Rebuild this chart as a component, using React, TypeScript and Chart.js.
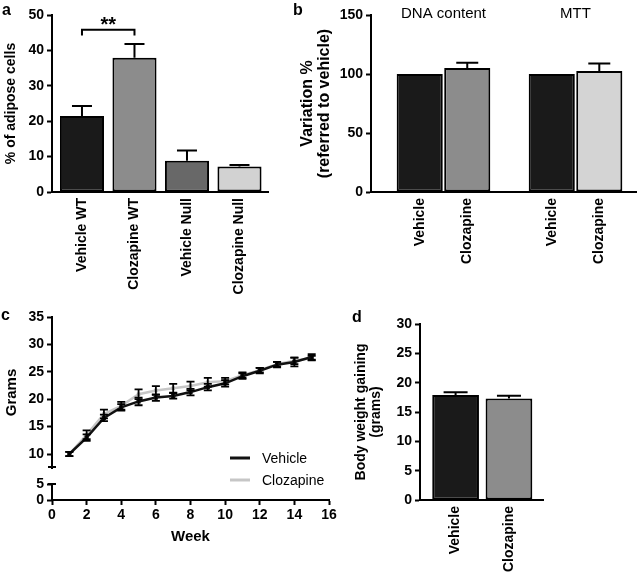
import React, { useEffect, useRef } from 'react';
import { Chart, registerables } from 'chart.js';

Chart.register(...registerables);

const FONT = '"Liberation Sans", Arial, Helvetica, sans-serif';
Chart.defaults.font.family = FONT;
Chart.defaults.color = '#000';

// ---------- Panel a ----------
const adiposeCategories = ['Vehicle WT', 'Clozapine WT', 'Vehicle Null', 'Clozapine Null'];
const adiposeValues = [21.5, 37.9, 8.8, 7.2];
const adiposeErrors = [2.8, 3.9, 2.9, 0.4];
const adiposeColors = ['#1a1a1a', '#8c8c8c', '#686868', '#d2d2d2'];
const adiposeTicks = [0, 10, 20, 30, 40, 50];
const adiposeSignificance = { from: 0, to: 1, value: 45.8, drop: 1.6, label: '**' };

// ---------- Panel b ----------
const variationGroups = ['DNA content', 'MTT'];
const variationVehicle = [100, 100];
const variationVehicleErr = [0, 0];
const variationClozapine = [105, 102.5];
const variationClozapineErr = [4.6, 6.5];
const variationClozapineColors = ['#8c8c8c', '#d4d4d4'];
const variationTicks = [0, 50, 100, 150];

// ---------- Panel c ----------
const weeks = [1, 2, 3, 4, 5, 6, 7, 8, 9, 10, 11, 12, 13, 14, 15];
const weightVehicle = [10.0, 13.0, 16.6, 18.5, 19.6, 20.3, 20.6, 21.3, 22.2, 22.9, 24.2, 25.2, 26.3, 26.8, 27.7];
const weightVehicleErr = [0.4, 0.6, 0.6, 0.6, 0.7, 0.6, 0.5, 0.6, 0.6, 0.6, 0.5, 0.5, 0.5, 0.8, 0.5];
const weightClozapine = [10.0, 13.5, 17.3, 18.8, 20.9, 21.6, 22.0, 22.4, 23.1, 23.3, 24.4, 25.3, 26.4, 27.0, 27.5];
const weightClozapineErr = [0.4, 0.8, 0.8, 0.7, 0.9, 0.8, 0.8, 0.8, 0.8, 0.6, 0.5, 0.4, 0.4, 0.6, 0.4];
const weekTicks = [0, 2, 4, 6, 8, 10, 12, 14, 16];
const gramsUpperTicks = [10, 15, 20, 25, 30, 35];
const gramsLowerTicks = [0, 5];

// ---------- Panel d ----------
const gainCategories = ['Vehicle', 'Clozapine'];
const gainValues = [17.9, 17.3];
const gainErrors = [0.45, 0.45];
const gainColors = ['#1a1a1a', '#8c8c8c'];
const gainTicks = [0, 5, 10, 15, 20, 25, 30];

// ---------- plugins ----------
const errorBarPlugin = {
  id: 'errorBars',
  afterDatasetsDraw(chart: any, _args: any, opts: any) {
    const { ctx } = chart;
    ctx.save();
    ctx.strokeStyle = opts.color || '#000';
    ctx.lineWidth = opts.width || 2;
    chart.data.datasets.forEach((ds: any, di: number) => {
      const errs = ds.errors;
      if (!errs) return;
      const meta = chart.getDatasetMeta(di);
      const yScale = chart.scales[meta.yAxisID];
      meta.data.forEach((el: any, i: number) => {
        const e = errs[i];
        if (!e) return;
        const raw = ds.data[i];
        const v = typeof raw === 'number' ? raw : raw.y;
        const yHi = yScale.getPixelForValue(v + e);
        const yLo = opts.mode === 'both' ? yScale.getPixelForValue(v - e) : yScale.getPixelForValue(v);
        const x = el.x;
        const c = opts.cap || 8;
        ctx.beginPath();
        ctx.moveTo(x, yLo);
        ctx.lineTo(x, yHi);
        ctx.moveTo(x - c, yHi);
        ctx.lineTo(x + c, yHi);
        if (opts.mode === 'both') {
          ctx.moveTo(x - c, yLo);
          ctx.lineTo(x + c, yLo);
        }
        ctx.stroke();
      });
    });
    ctx.restore();
  },
};

const significancePlugin = {
  id: 'significance',
  afterDatasetsDraw(chart: any, _args: any, opts: any) {
    const { ctx } = chart;
    const xs = chart.scales.x;
    const ys = chart.scales.y;
    const x0 = xs.getPixelForValue(opts.from);
    const x1 = xs.getPixelForValue(opts.to);
    const yTop = ys.getPixelForValue(opts.value);
    const yDrop = ys.getPixelForValue(opts.value - opts.drop);
    ctx.save();
    ctx.strokeStyle = '#000';
    ctx.lineWidth = 2;
    ctx.beginPath();
    ctx.moveTo(x0, yDrop);
    ctx.lineTo(x0, yTop);
    ctx.lineTo(x1, yTop);
    ctx.lineTo(x1, yDrop);
    ctx.stroke();
    ctx.fillStyle = '#000';
    ctx.font = `bold 20px ${FONT}`;
    ctx.textAlign = 'center';
    ctx.textBaseline = 'alphabetic';
    ctx.fillText(opts.label, (x0 + x1) / 2, yTop + 1);
    ctx.restore();
  },
};

const barLabelPlugin = {
  id: 'barLabels',
  afterDraw(chart: any, _args: any, opts: any) {
    const { ctx, chartArea } = chart;
    ctx.save();
    ctx.fillStyle = '#000';
    ctx.font = `bold 14px ${FONT}`;
    ctx.textAlign = 'right';
    ctx.textBaseline = 'middle';
    chart.data.datasets.forEach((ds: any, di: number) => {
      chart.getDatasetMeta(di).data.forEach((el: any) => {
        ctx.save();
        ctx.translate(el.x, chartArea.bottom + (opts.padding || 6));
        ctx.rotate(-Math.PI / 2);
        ctx.fillText(ds.label, 0, 0);
        ctx.restore();
      });
    });
    ctx.restore();
  },
};

const groupLabelPlugin = {
  id: 'groupLabels',
  afterDraw(chart: any, _args: any, opts: any) {
    const { ctx, chartArea } = chart;
    const xs = chart.scales.x;
    ctx.save();
    ctx.fillStyle = '#000';
    ctx.font = `15px ${FONT}`;
    ctx.textAlign = 'center';
    ctx.textBaseline = 'alphabetic';
    (opts.labels || []).forEach((lab: string, i: number) => {
      ctx.fillText(lab, xs.getPixelForValue(i), chartArea.top + (opts.offset || 0));
    });
    ctx.restore();
  },
};

const insideLegendPlugin = {
  id: 'insideLegend',
  afterDraw(chart: any, _args: any, opts: any) {
    const { ctx, chartArea } = chart;
    ctx.save();
    ctx.font = `14px ${FONT}`;
    ctx.textAlign = 'left';
    ctx.textBaseline = 'middle';
    chart.data.datasets.forEach((ds: any, i: number) => {
      const x = chartArea.right - opts.right;
      const y = chartArea.bottom - opts.bottom + i * opts.gap;
      ctx.strokeStyle = ds.borderColor;
      ctx.lineWidth = 3;
      ctx.beginPath();
      ctx.moveTo(x, y);
      ctx.lineTo(x + 20, y);
      ctx.stroke();
      ctx.fillStyle = '#000';
      ctx.fillText(ds.label, x + 32, y + 1);
    });
    ctx.restore();
  },
};

const axisBreakPlugin = {
  id: 'axisBreak',
  afterDraw(chart: any) {
    const { ctx, chartArea } = chart;
    const top = chart.scales.yTop;
    const bot = chart.scales.yBot;
    const x = Math.round(chartArea.left);
    const y0 = bot.getPixelForValue(gramsLowerTicks[0]);
    const y1 = bot.getPixelForValue(gramsLowerTicks[gramsLowerTicks.length - 1]);
    const yEnd = top.getPixelForValue(top.min);
    ctx.save();
    ctx.strokeStyle = '#000';
    ctx.lineWidth = 2;
    ctx.beginPath();
    ctx.moveTo(x, y0);
    ctx.lineTo(x, y1);
    ctx.moveTo(x - 4, y1);
    ctx.lineTo(x + 4, y1);
    ctx.moveTo(x - 4, yEnd - 1);
    ctx.lineTo(x + 4, yEnd - 1);
    ctx.stroke();
    ctx.restore();
  },
};

// ---------- axis helpers ----------
function valueAxis(min: number, max: number, ticks: number[], width: number, title: any, extra: any = {}) {
  return {
    type: 'linear',
    position: 'left',
    min,
    max,
    afterBuildTicks: (s: any) => {
      s.ticks = ticks.map((v) => ({ value: v }));
    },
    afterFit: (s: any) => {
      s.width = width;
    },
    border: { display: true, color: '#000', width: 2 },
    grid: { display: true, drawOnChartArea: false, drawTicks: true, tickLength: 5, tickWidth: 2, tickColor: '#000', color: '#000' },
    ticks: { color: '#000', padding: 3, font: { size: 14, weight: 'bold' } },
    title,
    ...extra,
  };
}

function indexAxis(min: number, max: number, labels: string[], height: number, showLabels: boolean) {
  return {
    type: 'linear',
    position: 'bottom',
    min,
    max,
    offset: false,
    afterBuildTicks: (s: any) => {
      s.ticks = labels.map((_, i) => ({ value: i }));
    },
    afterFit: (s: any) => {
      s.height = height;
    },
    border: { display: true, color: '#000', width: 2 },
    grid: { display: false, drawTicks: false },
    ticks: {
      display: showLabels,
      autoSkip: false,
      minRotation: 90,
      maxRotation: 90,
      padding: 6,
      color: '#000',
      font: { size: 14, weight: 'bold' },
      callback: (v: any) => (labels[v] !== undefined ? labels[v] : ''),
    },
  };
}

const baseOptions = {
  responsive: false,
  animation: false,
  devicePixelRatio: 1,
  events: [],
};

// ---------- configs ----------
const configA: any = {
  type: 'bar',
  data: {
    datasets: [
      {
        label: '% of adipose cells',
        data: adiposeValues.map((y, i) => ({ x: i, y })),
        backgroundColor: adiposeColors,
        borderColor: '#000',
        borderWidth: 2,
        borderSkipped: false,
        barPercentage: 0.84,
        categoryPercentage: 1,
        errors: adiposeErrors,
      },
    ],
  },
  options: {
    ...baseOptions,
    layout: { padding: { top: 15, right: 32, left: 0, bottom: 0 } },
    plugins: {
      legend: { display: false },
      tooltip: { enabled: false },
      errorBars: { mode: 'up', cap: 10, width: 2 },
      significance: adiposeSignificance,
    },
    scales: {
      x: indexAxis(-0.571, 3.543, adiposeCategories, 103, true),
      y: valueAxis(0, 50, adiposeTicks, 52, {
        display: true,
        text: '% of adipose cells',
        color: '#000',
        font: { size: 14, weight: 'bold', lineHeight: 1.2 },
        padding: { top: 3, bottom: 0 },
      }),
    },
  },
  plugins: [errorBarPlugin, significancePlugin],
};

const configB: any = {
  type: 'bar',
  data: {
    datasets: [
      {
        label: 'Vehicle',
        data: variationVehicle.map((y, i) => ({ x: i, y })),
        backgroundColor: '#1a1a1a',
        borderColor: '#000',
        borderWidth: 2,
        borderSkipped: false,
        barPercentage: 0.97,
        categoryPercentage: 0.72,
        errors: variationVehicleErr,
      },
      {
        label: 'Clozapine',
        data: variationClozapine.map((y, i) => ({ x: i, y })),
        backgroundColor: variationClozapineColors,
        borderColor: '#000',
        borderWidth: 2,
        borderSkipped: false,
        barPercentage: 0.97,
        categoryPercentage: 0.72,
        errors: variationClozapineErr,
      },
    ],
  },
  options: {
    ...baseOptions,
    layout: { padding: { top: 15, right: 4, left: 0, bottom: 0 } },
    plugins: {
      legend: { display: false },
      tooltip: { enabled: false },
      errorBars: { mode: 'up', cap: 11, width: 2 },
      barLabels: { padding: 6 },
      groupLabels: { labels: variationGroups, offset: 3 },
    },
    scales: {
      x: indexAxis(-0.549, 1.458, variationGroups, 103, false),
      y: valueAxis(0, 150, variationTicks, 81, {
        display: true,
        text: ['Variation %', '(referred to vehicle)'],
        color: '#000',
        font: { size: 16, weight: 'bold', lineHeight: 1.08 },
        padding: { top: 9, bottom: 0 },
      }),
    },
  },
  plugins: [errorBarPlugin, barLabelPlugin, groupLabelPlugin],
};

const configC: any = {
  type: 'line',
  data: {
    datasets: [
      {
        label: 'Vehicle',
        data: weightVehicle.map((y, i) => ({ x: weeks[i], y })),
        borderColor: '#111111',
        backgroundColor: '#111111',
        borderWidth: 2.5,
        pointStyle: 'rect',
        pointRadius: 3,
        pointBorderWidth: 0,
        tension: 0,
        yAxisID: 'yTop',
        errors: weightVehicleErr,
      },
      {
        label: 'Clozapine',
        data: weightClozapine.map((y, i) => ({ x: weeks[i], y })),
        borderColor: '#c6c6c6',
        backgroundColor: '#b0b0b0',
        borderWidth: 2.5,
        pointStyle: 'rect',
        pointRadius: 2.5,
        pointBorderWidth: 0,
        tension: 0,
        yAxisID: 'yTop',
        errors: weightClozapineErr,
      },
    ],
  },
  options: {
    ...baseOptions,
    layout: { padding: { top: 17, right: 11, left: 0, bottom: 0 } },
    plugins: {
      legend: { display: false },
      tooltip: { enabled: false },
      errorBars: { mode: 'both', cap: 4, width: 1.8 },
      insideLegend: { right: 99, bottom: 42, gap: 22 },
    },
    scales: {
      x: {
        type: 'linear',
        position: 'bottom',
        min: 0,
        max: 16,
        afterBuildTicks: (s: any) => {
          s.ticks = weekTicks.map((v) => ({ value: v }));
        },
        afterFit: (s: any) => {
          s.height = 72;
        },
        border: { display: true, color: '#000', width: 2 },
        grid: { display: true, drawOnChartArea: false, drawTicks: true, tickLength: 5, tickWidth: 2, tickColor: '#000', color: '#000' },
        ticks: { color: '#000', padding: 2, maxRotation: 0, autoSkip: false, font: { size: 14, weight: 'bold' } },
        title: {
          display: true,
          text: 'Week',
          color: '#000',
          font: { size: 15, weight: 'bold', lineHeight: 1.2 },
          padding: { top: 0, bottom: 26 },
        },
      },
      yTop: valueAxis(
        7.45,
        35,
        gramsUpperTicks,
        52,
        {
          display: true,
          text: 'Grams',
          color: '#000',
          font: { size: 15, weight: 'bold', lineHeight: 1.2 },
          padding: { top: 3, bottom: 0 },
        },
        { stack: 'grams', stackWeight: 151, weight: 1 }
      ),
      yBot: valueAxis(
        0,
        10,
        gramsLowerTicks,
        52,
        { display: false },
        { stack: 'grams', stackWeight: 32, weight: 0, border: { display: false } }
      ),
    },
  },
  plugins: [errorBarPlugin, insideLegendPlugin, axisBreakPlugin],
};

const configD: any = {
  type: 'bar',
  data: {
    datasets: [
      {
        label: 'Body weight gaining',
        data: gainValues.map((y, i) => ({ x: i, y })),
        backgroundColor: gainColors,
        borderColor: '#000',
        borderWidth: 2,
        borderSkipped: false,
        barPercentage: 0.876,
        categoryPercentage: 1,
        errors: gainErrors,
      },
    ],
  },
  options: {
    ...baseOptions,
    layout: { padding: { top: 24, right: 97, left: 0, bottom: 0 } },
    plugins: {
      legend: { display: false },
      tooltip: { enabled: false },
      errorBars: { mode: 'up', cap: 12, width: 2 },
    },
    scales: {
      x: indexAxis(-0.667, 1.638, gainCategories, 72, true),
      y: valueAxis(0, 30, gainTicks, 80, {
        display: true,
        text: ['Body weight gaining', '(grams)'],
        color: '#000',
        font: { size: 14, weight: 'bold', lineHeight: 1.07 },
        padding: { top: 14, bottom: 0 },
      }),
    },
  },
  plugins: [errorBarPlugin],
};

function ChartCanvas({ config, left, top, width, height }: any) {
  const ref = useRef<HTMLCanvasElement>(null);
  useEffect(() => {
    const chart = new Chart(ref.current as HTMLCanvasElement, config);
    return () => chart.destroy();
  }, [config]);
  return (
    <canvas
      ref={ref}
      width={width}
      height={height}
      style={{ position: 'absolute', left, top, width, height }}
    />
  );
}

const letterStyle: any = {
  position: 'absolute',
  fontFamily: FONT,
  fontWeight: 'bold',
  fontSize: 16,
  lineHeight: '16px',
  color: '#000',
};

export default function App() {
  return (
    <div style={{ position: 'fixed', left: 0, top: 0, width: 640, height: 572, background: '#fff', overflow: 'hidden' }}>
      <ChartCanvas config={configA} left={0} top={0} width={300} height={295} />
      <ChartCanvas config={configB} left={290} top={0} width={350} height={295} />
      <ChartCanvas config={configC} left={0} top={300} width={340} height={272} />
      <ChartCanvas config={configD} left={340} top={300} width={300} height={272} />
      <div style={{ ...letterStyle, left: 2, top: 1.5 }}>a</div>
      <div style={{ ...letterStyle, left: 293, top: 1.5 }}>b</div>
      <div style={{ ...letterStyle, left: 1, top: 306.5 }}>c</div>
      <div style={{ ...letterStyle, left: 352, top: 308.5 }}>d</div>
    </div>
  );
}
